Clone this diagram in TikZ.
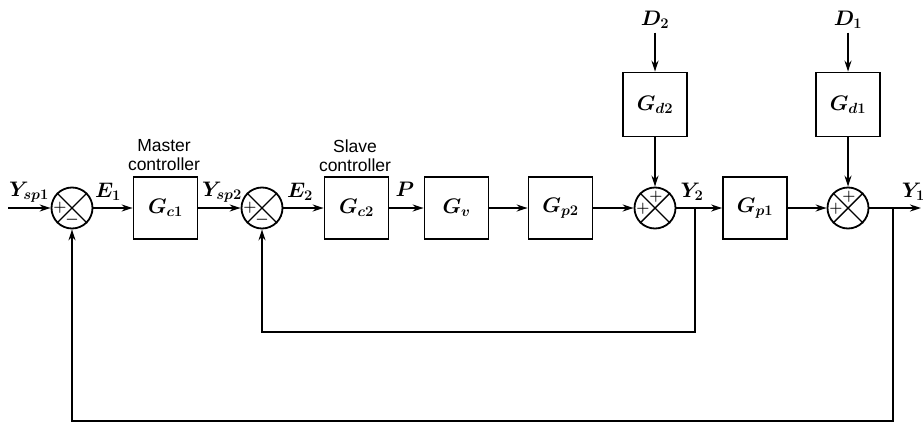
\RequirePackage{fix-cm}
\documentclass[tikz,border=0pt]{standalone}
\usepackage{fontspec}
\setsansfont{Liberation Sans}
\usetikzlibrary{arrows.meta}
\begin{document}
\begin{tikzpicture}[x=1pt,y=-1pt,
  line width=1.8pt,
  >={Stealth[length=11pt,width=7pt]},
  blk/.style={draw, minimum width=64pt, minimum height=62pt, inner sep=0pt, font=\fontsize{21}{26}\selectfont\boldmath},
  sumn/.style={draw, circle, minimum size=41pt, inner sep=0pt},
  lbl/.style={font=\fontsize{21}{26}\selectfont\boldmath, inner sep=0pt},
  captxt/.style={font=\sffamily\fontsize{17.5}{19}\selectfont, align=center, inner sep=0pt},
  sgn/.style={font=\fontsize{15}{15}\selectfont\boldmath, inner sep=0pt},
  crs/.style={line width=1.4pt}
]
\useasboundingbox (0,0) rectangle (923,423);
% main path
\coordinate (in) at (8,208);
\node[sumn] (s1) at (72,208) {};
\node[blk] (gc1) at (165.5,208) {$G_{c1}$};
\node[sumn] (s2) at (262,208) {};
\node[blk] (gc2) at (356.5,208) {$G_{c2}$};
\node[blk] (gv) at (456.5,208) {$G_v$};
\node[blk] (gp2) at (560.5,208) {$G_{p2}$};
\node[sumn] (s3) at (655,208) {};
\coordinate (b2) at (695,208);
\node[blk] (gp1) at (755,208) {$G_{p1}$};
\node[sumn] (s4) at (848,208) {};
\coordinate (b1) at (893,208);
\coordinate (out) at (921,208);
% disturbances
\node[blk, minimum height=64pt] (gd2) at (655,104.5) {$G_{d2}$};
\node[blk, minimum height=64pt] (gd1) at (848,104.5) {$G_{d1}$};
\node[lbl] (d2) at (655,20) {$D_2$};
\node[lbl] (d1) at (848,20) {$D_1$};
% crosses in summing junctions
\foreach \s in {s1,s2,s3,s4}{
  \draw[crs] (\s.45) -- (\s.225);
  \draw[crs] (\s.135) -- (\s.315);
}
% signs
\node[sgn] (p1) at (60,208) {$+$};
\node[sgn] (m1) at (72,220) {$-$};
\node[sgn] (p2) at (250,208) {$+$};
\node[sgn] (m2) at (262,220) {$-$};
\node[sgn] (p3) at (643,209) {$+$};
\node[sgn] (p3t) at (656,196.5) {$+$};
\node[sgn] (p4) at (836,209) {$+$};
\node[sgn] (p4t) at (849,196.5) {$+$};
% captions
\node[captxt] (mc) at (164,155) {Master\\controller};
\node[captxt] (sc) at (355,155.5) {Slave\\controller};
% signal labels
\node[lbl] (ysp1) at (29,192) {$Y_{sp1}$};
\node[lbl] (e1) at (108,192) {$E_1$};
\node[lbl] (ysp2) at (222,192) {$Y_{sp2}$};
\node[lbl] (e2) at (300,192) {$E_2$};
\node[lbl] (pl) at (405,189) {$P$};
\node[lbl] (y2) at (692,192) {$Y_2$};
\node[lbl, anchor=west] (y1) at (901,192) {$Y_1$};
% connectors
\draw[->] (in) -- (s1);
\draw[->] (s1) -- (gc1);
\draw[->] (gc1) -- (s2);
\draw[->] (s2) -- (gc2);
\draw[->] (gc2) -- (gv);
\draw[->] (gv) -- (gp2);
\draw[->] (gp2) -- (s3);
\draw[->] (s3) -- (gp1);
\draw[->] (gp1) -- (s4);
\draw[->] (s4) -- (out);
\draw[->, shorten <=3pt] (d2) -- (gd2);
\draw[->, shorten <=3pt] (d1) -- (gd1);
\draw[->] (gd2) -- (s3);
\draw[->] (gd1) -- (s4);
% feedback loops
\draw[->] (b2) -- ++(0,124) -| (s2);
\draw[->] (b1) -- ++(0,213) -| (s1);
\end{tikzpicture}
\end{document}
